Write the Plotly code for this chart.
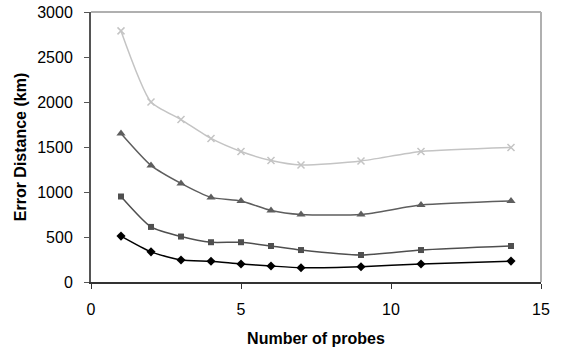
import plotly.graph_objects as go

probes = [1, 2, 3, 4, 5, 6, 7, 9, 11, 14]
series_x = [2790, 2000, 1805, 1595, 1450, 1350, 1300, 1345, 1450, 1495]
series_tri = [1650, 1295, 1095, 940, 900, 795, 750, 750, 855, 900]
series_sq = [950, 612, 505, 442, 442, 400, 355, 300, 355, 400]
series_dia = [510, 335, 245, 230, 200, 178, 158, 170, 200, 232]

FONT = "Arial, Liberation Sans, sans-serif"

fig = go.Figure()
styles = [
    (series_x, "#c4c4c4", "x-thin", 7, 1.5),
    (series_tri, "#5e5e5e", "triangle-up", 8, 1.5),
    (series_sq, "#4f4f4f", "square", 6, 1.5),
    (series_dia, "#000000", "diamond", 7, 1.5),
]
for vals, col, sym, sz, lw in styles:
    marker = dict(symbol=sym, size=sz, color=col)
    if sym == "x-thin":
        marker["line"] = dict(color=col, width=1.5)
    fig.add_trace(go.Scatter(
        x=probes, y=vals, mode="lines+markers",
        line=dict(color=col, width=lw, shape="spline", smoothing=0.6),
        marker=marker, showlegend=False,
    ))

fig.update_layout(
    width=561, height=351,
    margin=dict(l=91, r=20, t=12, b=69),
    plot_bgcolor="white", paper_bgcolor="white",
    font=dict(family=FONT, size=16, color="black"),
    xaxis=dict(
        range=[0, 15], tickvals=[0, 5, 10, 15], ticks="outside", ticklen=5,
        tickcolor="#333", showline=True, linecolor="#333", linewidth=2,
        showgrid=False, zeroline=False, ticklabelstandoff=7, automargin=False,
        title=dict(text="<b>Number of probes</b>", font=dict(size=16), standoff=16),
    ),
    yaxis=dict(
        range=[0, 3000], tickvals=[0, 500, 1000, 1500, 2000, 2500, 3000],
        ticks="outside", ticklen=5, tickcolor="#555", showline=True,
        linecolor="#555", linewidth=2, showgrid=False, zeroline=False,
        ticklabelstandoff=8, automargin=False,
        title=dict(text="<b>Error Distance (km)</b>", font=dict(size=16), standoff=7),
    ),
    shapes=[
        dict(type="line", xref="paper", yref="paper", x0=0, x1=1, y0=1, y1=1,
             line=dict(color="#b0b0b0", width=2)),
        dict(type="line", xref="paper", yref="paper", x0=1, x1=1, y0=0, y1=1,
             line=dict(color="#b0b0b0", width=2)),
    ],
)

fig.write_html("out.html")
